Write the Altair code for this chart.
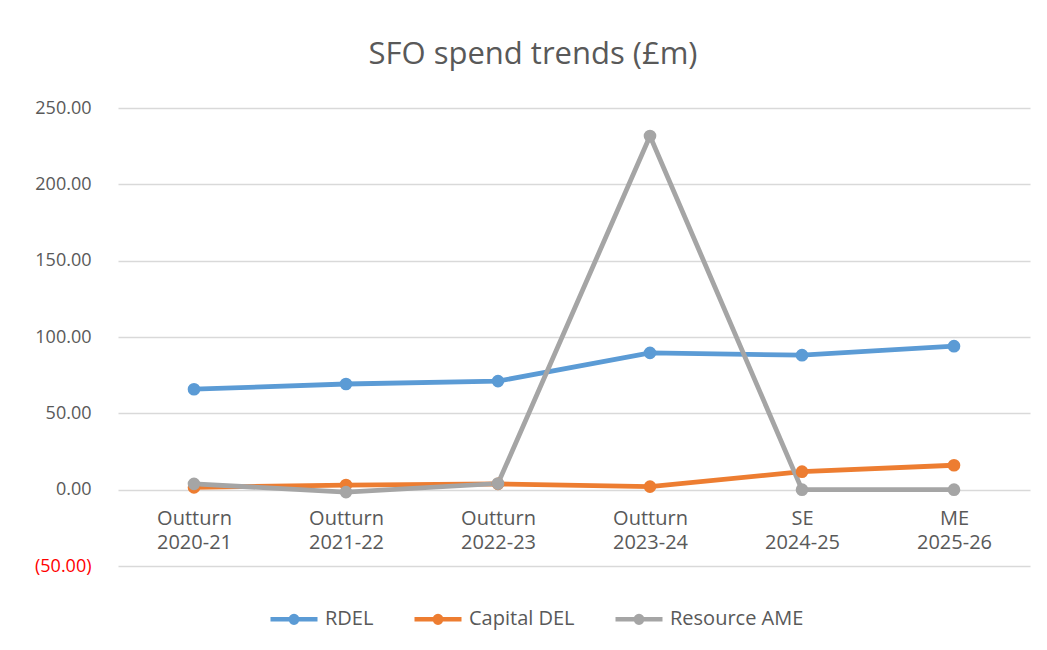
import altair as alt
import pandas as pd

categories = ["Outturn 2020-21", "Outturn 2021-22", "Outturn 2022-23",
              "Outturn 2023-24", "SE 2024-25", "ME 2025-26"]
series_names = ["RDEL", "Capital DEL", "Resource AME"]
rdel = [65.8, 69.2, 71.1, 89.6, 88.1, 94.0]
capital_del = [1.5, 3.0, 3.8, 2.0, 11.8, 16.0]
resource_ame = [3.8, -1.6, 4.0, 231.6, 0.0, 0.0]
colors = ["#5B9BD5", "#ED7D31", "#A5A5A5"]
y_ticks = [-50, 0, 50, 100, 150, 200, 250]

rows = []
for name, vals in zip(series_names, [rdel, capital_del, resource_ame]):
    for c, v in zip(categories, vals):
        rows.append({"series": name, "category": c, "value": v})
df = pd.DataFrame(rows)

FONT = "Open Sans"
TXT = "#595959"

legend_path = ("M-1,0L1,0M0.14,0A0.14,0.14,0,1,1,-0.14,0"
               "A0.14,0.14,0,1,1,0.14,0")

x_enc = alt.X("category:N", sort=categories, title=None,
              scale=alt.Scale(type="point", padding=0.5),
              axis=alt.Axis(orient="bottom", offset=-76, domain=False,
                            ticks=False, grid=False, labelAngle=0,
                            labelExpr="split(datum.label, ' ')",
                            labelFontSize=20, labelLineHeight=24,
                            labelPadding=18, labelColor=TXT,
                            labelFont=FONT, labelBaseline="top"))
y_enc = alt.Y("value:Q", title=None,
              scale=alt.Scale(domain=[-50, 250], nice=False, zero=False),
              axis=alt.Axis(values=y_ticks, domain=False, ticks=False,
                            grid=True, gridColor="#D9D9D9", gridWidth=1.3,
                            labelExpr="datum.value < 0 ? '(' + format(-datum.value, '.2f') + ')' : format(datum.value, '.2f')",
                            labelColor={"condition": {"test": "datum.value < 0", "value": "#FF0000"}, "value": TXT},
                            labelFontSize=18, labelFont=FONT, labelPadding=27))
color_enc = alt.Color("series:N", sort=series_names,
                      scale=alt.Scale(domain=series_names, range=colors),
                      legend=alt.Legend(title=None, orient="none",
                                        direction="horizontal",
                                        legendX=150, legendY=485,
                                        symbolType=legend_path,
                                        symbolSize=47 * 47,
                                        symbolStrokeWidth=4.5,
                                        labelFontSize=20, labelFont=FONT,
                                        labelColor=TXT, labelOffset=5,
                                        columnPadding=31))

chart = alt.Chart(df).mark_line(
    strokeWidth=4.8,
    point=alt.OverlayMarkDef(filled=True, size=160, opacity=1)
).encode(x=x_enc, y=y_enc, color=color_enc).properties(
    width=912, height=458,
    title=alt.TitleParams("SFO spend trends (£m)", fontSize=31,
                          fontWeight="normal", color=TXT, font=FONT,
                          anchor="middle", dx=-41, offset=28),
    autosize=alt.AutoSizeParams(type="none"),
    padding={"left": 110, "top": 100, "right": 9, "bottom": 76},
).configure_view(stroke=None)

chart.save("out.html", embed_options={"renderer": "svg", "actions": False})
